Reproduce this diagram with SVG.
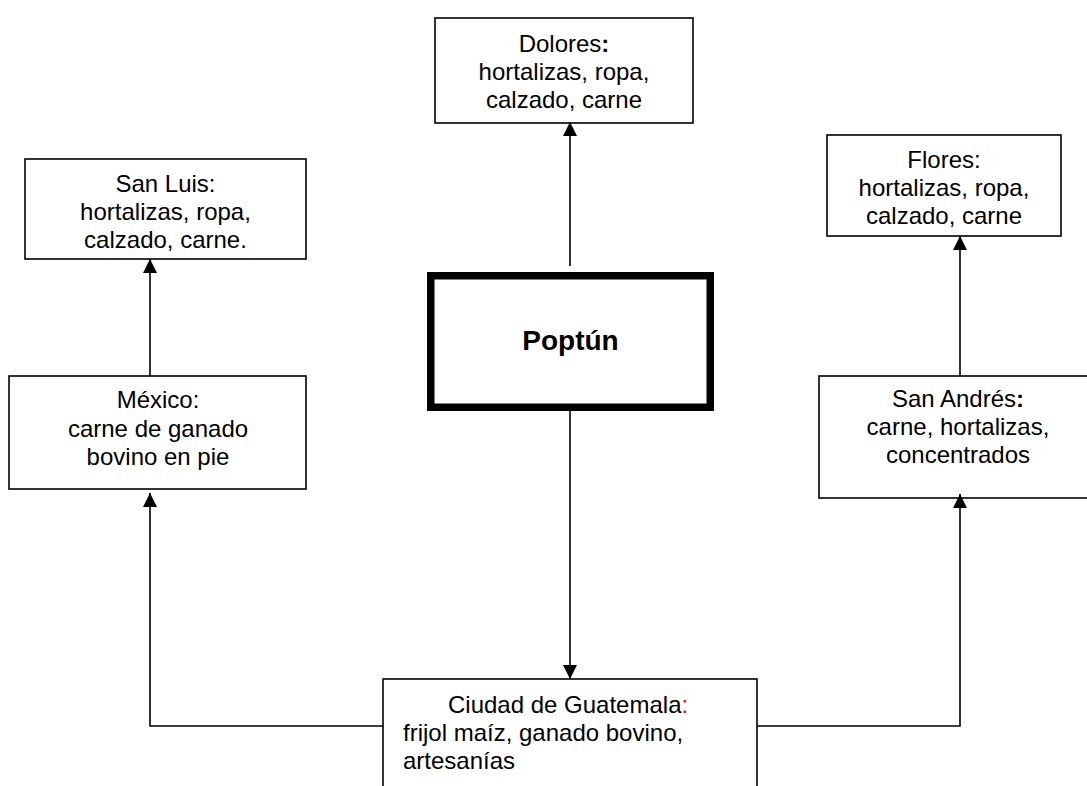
<svg xmlns="http://www.w3.org/2000/svg" width="1087" height="786" viewBox="0 0 1087 786">
<style>
.box{fill:#fff;stroke:#000;stroke-width:1.6}
.thick{fill:#fff;stroke:#000;stroke-width:7.5}
.t{font-family:"Liberation Sans",Arial,sans-serif;font-size:24px;fill:#000}
.c{text-anchor:middle}
.b{font-weight:bold}
.conn{fill:none;stroke:#000;stroke-width:1.6}
</style>
<defs>
<marker id="arr" markerUnits="userSpaceOnUse" markerWidth="14" markerHeight="14" refX="14" refY="7" orient="auto" viewBox="0 0 14 14">
<path d="M0,0 L14,7 L0,14 z" fill="#000"/>
</marker>
</defs>
<rect width="1087" height="786" fill="#fff"/>
<g id="dolores">
<rect class="box" x="435" y="18" width="258" height="105"/>
<text class="t c" x="564" y="52">Dolores<tspan class="b">:</tspan></text>
<text class="t c" x="564" y="80">hortalizas, ropa,</text>
<text class="t c" x="564" y="108">calzado, carne</text>
</g>
<g id="sanluis">
<rect class="box" x="25" y="159" width="281" height="100"/>
<text class="t c" x="165.5" y="192">San Luis:</text>
<text class="t c" x="165.5" y="220">hortalizas, ropa,</text>
<text class="t c" x="165.5" y="248">calzado, carne.</text>
</g>
<g id="flores">
<rect class="box" x="827" y="135" width="234" height="101"/>
<text class="t c" x="944" y="168">Flores:</text>
<text class="t c" x="944" y="196">hortalizas, ropa,</text>
<text class="t c" x="944" y="224">calzado, carne</text>
</g>
<g id="poptun">
<rect class="thick" x="430.75" y="275.75" width="279.5" height="131.5"/>
<text class="t c b" x="570.5" y="350" style="font-size:28px">Poptún</text>
</g>
<g id="mexico">
<rect class="box" x="9" y="376" width="297" height="113"/>
<text class="t c" x="158" y="408">México:</text>
<text class="t c" x="158" y="436.5">carne de ganado</text>
<text class="t c" x="158" y="465">bovino en pie</text>
</g>
<g id="sanandres">
<rect class="box" x="819" y="376" width="278" height="122"/>
<text class="t c" x="958" y="407">San Andrés<tspan class="b">:</tspan></text>
<text class="t c" x="958" y="435">carne, hortalizas,</text>
<text class="t c" x="958" y="463">concentrados</text>
</g>
<g id="guatemala">
<rect class="box" x="383" y="679" width="374" height="120"/>
<text class="t" x="448" y="713">Ciudad de Guatemala<tspan fill="#ff0000">:</tspan></text>
<text class="t" x="403" y="741">frijol maíz, ganado bovino,</text>
<text class="t" x="403" y="769">artesanías</text>
</g>
<g id="connectors">
<line class="conn" x1="570" y1="266" x2="570" y2="122" marker-end="url(#arr)"/>
<line class="conn" x1="150" y1="376" x2="150" y2="259" marker-end="url(#arr)"/>
<line class="conn" x1="960" y1="376" x2="960" y2="236" marker-end="url(#arr)"/>
<line class="conn" x1="570" y1="411" x2="570" y2="679" marker-end="url(#arr)"/>
<polyline class="conn" points="383,726 150,726 150,493" marker-end="url(#arr)"/>
<polyline class="conn" points="757,726 960,726 960,494" marker-end="url(#arr)"/>
</g>
</svg>
